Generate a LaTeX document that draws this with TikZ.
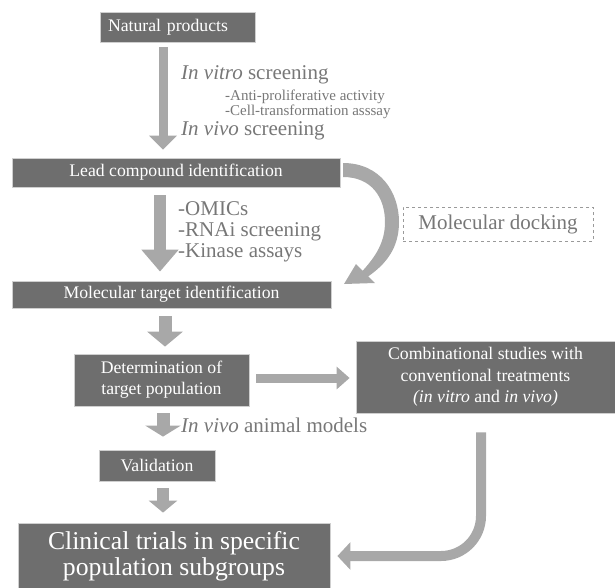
\documentclass[tikz,border=0pt]{standalone}
\usepackage{fontspec}
\setmainfont{Liberation Serif}
\usetikzlibrary{arrows.meta,calc}
\definecolor{boxc}{HTML}{6E6E6E}
\definecolor{arrc}{HTML}{A8A8A8}
\definecolor{txtc}{HTML}{777777}
\definecolor{edgec}{HTML}{CFCFCF}
\definecolor{dashc}{HTML}{9A9A9A}
\begin{document}
\begin{tikzpicture}[x=1pt,y=-1pt,
  box/.style={fill=boxc, draw=edgec, line width=0.8pt, text=white, inner sep=0pt,
    align=center, font=\fontsize{17.7}{21}\selectfont},
  lbl/.style={text=txtc, inner sep=0pt, anchor=base west, font=\fontsize{21}{21}\selectfont},
  slbl/.style={text=txtc, inner sep=0pt, anchor=base west, font=\fontsize{15}{15}\selectfont},
  blk/.style={draw=arrc, line width=#1},
]
\useasboundingbox (0,0) rectangle (615,587);

% boxes
\node[box, minimum height=30pt, text width=139pt, inner xsep=8pt, align=left] (nat) at (177.5,27) {Natural products};
\node[box, minimum width=328pt, minimum height=29pt] (lead) at (176,172.5) {Lead compound identification};
\node[box, minimum width=319pt, minimum height=27pt] (molt) at (171.5,294.5) {Molecular target identification};
\node[box, minimum width=175pt, minimum height=52pt] (det) at (161.5,380) {Determination of\\target population};
\node[box, minimum width=259pt, minimum height=72pt, font=\fontsize{17.7}{21.5}\selectfont] (comb) at (485.5,377) {Combinational studies with\\conventional treatments\\\textit{(in vitro} and \textit{in vivo)}};
\node[box, minimum width=116pt, minimum height=31pt] (val) at (157,465.5) {Validation};
\node[box, minimum width=312pt, minimum height=66pt, font=\fontsize{25.7}{26}\selectfont] (clin) at (174,556) {Clinical trials in specific\\population subgroups};
\node[draw=dashc, dashed, line width=0.8pt, minimum width=190pt, minimum height=34pt, inner sep=0pt,
  text=txtc, font=\fontsize{21}{21}\selectfont] (dock) at (498,224) {Molecular docking};

% labels
\node[lbl] (l1) at (181,79) {\textit{In vitro} screening};
\node[slbl] (l2) at (225,100.5) {-Anti-proliferative activity};
\node[slbl] (l3) at (225,115) {-Cell-transformation asssay};
\node[lbl] (l4) at (181,135) {\textit{In vivo} screening};
\node[lbl] (o1) at (178,215) {-OMICs};
\node[lbl] (o2) at (178,236) {-RNAi screening};
\node[lbl] (o3) at (178,257) {-Kinase assays};
\node[lbl] (iv) at (181,432) {\textit{In vivo} animal models};

% straight block arrows
\coordinate (xa) at (163,0);
\coordinate (xb) at (160,0);
\coordinate (xc) at (165,0);
\draw[blk=9pt, -{Triangle[length=14pt,width=27pt]}, shorten <=5pt, shorten >=8pt]
  (xa |- nat.south) -- (xa |- lead.north);
\draw[blk=12pt, -{Triangle[length=22pt,width=36pt]}, shorten <=8pt, shorten >=9pt]
  (xb |- lead.south) -- (xb |- molt.north);
\draw[blk=13pt, -{Triangle[length=15pt,width=35pt]}, shorten <=8pt, shorten >=7pt]
  (xc |- molt.south) -- (xc |- det.north);
\draw[blk=13pt, -{Triangle[length=11pt,width=35pt]}, shorten <=7pt, shorten >=13pt]
  (xa |- det.south) -- (xa |- val.north);
\draw[blk=12pt, -{Triangle[length=12pt,width=28pt]}, shorten <=7pt, shorten >=10pt]
  (xa |- val.south) -- (xa |- clin.north);
\coordinate (yh) at (0,378);
\draw[blk=9pt, -{Triangle[length=13pt,width=22pt]}, shorten <=7pt, shorten >=6pt]
  (det.east |- yh) -- (comb.west |- yh);

% combinational -> clinical
\coordinate (xv) at (481,0);
\coordinate (yc) at (0,556);
\draw[blk=10pt, -{Triangle[length=13pt,width=27pt]}, rounded corners=40pt, shorten <=19pt, shorten >=7pt]
  (xv |- comb.south) |- (clin.east |- yc);

% curved block arrow lead -> molecular target
\fill[arrc]
  (343,163) .. controls (380,163) and (399,192) .. (399,222)
  .. controls (399,248) and (386,264) .. (368.3,276.3)
  -- (375,283) -- (344,284) -- (356,264) -- (362.7,270.7)
  .. controls (376,256) and (385,242) .. (385,222)
  .. controls (385,198) and (372,177) .. (343,177) -- cycle;
\end{tikzpicture}
\end{document}
